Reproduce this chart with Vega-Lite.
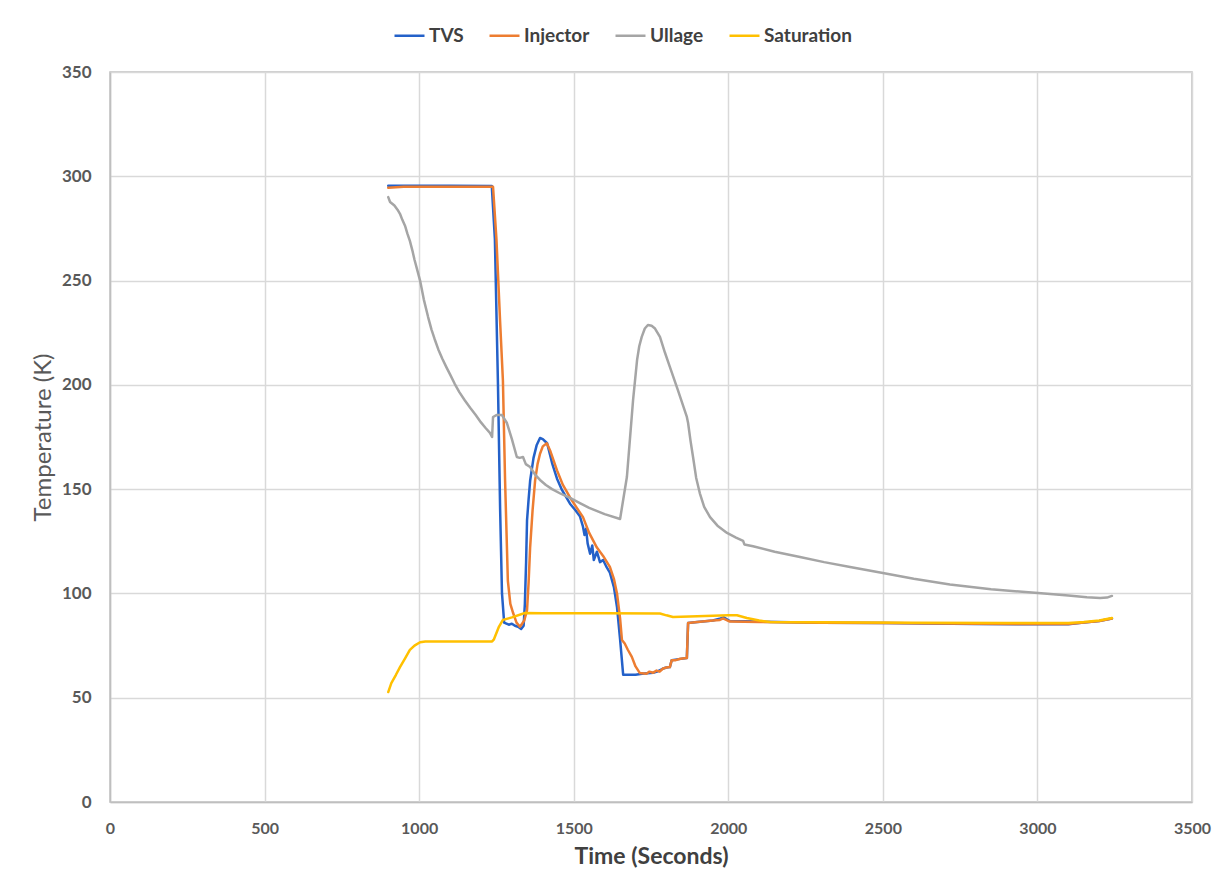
{
  "$schema": "https://vega.github.io/schema/vega-lite/v6.json",
  "width": 1082,
  "height": 730,
  "autosize": {"type": "none"},
  "padding": {"left": 110, "top": 72, "right": 34, "bottom": 90},
  "background": "white",
  "config": {
    "view": {"stroke": "#bfbfbf", "strokeWidth": 1.5},
    "font": "Lato"
  },
  "data": {
    "values": [
      {"s":"TVS","t":900,"T":295.5},{"s":"TVS","t":1000,"T":295.5},{"s":"TVS","t":1100,"T":295.5},{"s":"TVS","t":1235,"T":295.3},{"s":"TVS","t":1245,"T":270},{"s":"TVS","t":1255,"T":200},{"s":"TVS","t":1262,"T":140},{"s":"TVS","t":1268,"T":100},{"s":"TVS","t":1275,"T":86},{"s":"TVS","t":1290,"T":85},{"s":"TVS","t":1300,"T":85.5},{"s":"TVS","t":1310,"T":84.5},{"s":"TVS","t":1320,"T":84},{"s":"TVS","t":1330,"T":83},{"s":"TVS","t":1338,"T":84.5},{"s":"TVS","t":1342,"T":95},{"s":"TVS","t":1346,"T":115},{"s":"TVS","t":1349,"T":135},{"s":"TVS","t":1354,"T":145},{"s":"TVS","t":1359,"T":154},{"s":"TVS","t":1370,"T":165},{"s":"TVS","t":1380,"T":171},{"s":"TVS","t":1391,"T":174.5},{"s":"TVS","t":1400,"T":174},{"s":"TVS","t":1414,"T":172},{"s":"TVS","t":1430,"T":162.5},{"s":"TVS","t":1446,"T":155},{"s":"TVS","t":1462,"T":149.6},{"s":"TVS","t":1488,"T":143},{"s":"TVS","t":1505,"T":140},{"s":"TVS","t":1520,"T":137},{"s":"TVS","t":1530,"T":132},{"s":"TVS","t":1535,"T":128},{"s":"TVS","t":1540,"T":131},{"s":"TVS","t":1545,"T":124},{"s":"TVS","t":1553,"T":119},{"s":"TVS","t":1560,"T":123},{"s":"TVS","t":1565,"T":116},{"s":"TVS","t":1575,"T":120},{"s":"TVS","t":1585,"T":115},{"s":"TVS","t":1595,"T":116},{"s":"TVS","t":1605,"T":113},{"s":"TVS","t":1617,"T":110},{"s":"TVS","t":1630,"T":103},{"s":"TVS","t":1640,"T":93.5},{"s":"TVS","t":1650,"T":78},{"s":"TVS","t":1660,"T":61},{"s":"TVS","t":1700,"T":61},{"s":"TVS","t":1721,"T":61.5},{"s":"TVS","t":1757,"T":62},{"s":"TVS","t":1770,"T":62.5},{"s":"TVS","t":1789,"T":64},{"s":"TVS","t":1800,"T":64.5},{"s":"TVS","t":1811,"T":64.7},{"s":"TVS","t":1817,"T":68},{"s":"TVS","t":1840,"T":68.5},{"s":"TVS","t":1866,"T":69},{"s":"TVS","t":1870,"T":85.8},{"s":"TVS","t":1900,"T":86.3},{"s":"TVS","t":1950,"T":87},{"s":"TVS","t":1975,"T":88},{"s":"TVS","t":1985,"T":88.5},{"s":"TVS","t":2005,"T":86.8},{"s":"TVS","t":2100,"T":86.5},{"s":"TVS","t":2300,"T":86},{"s":"TVS","t":2500,"T":85.8},{"s":"TVS","t":2800,"T":85.4},{"s":"TVS","t":3000,"T":85.2},{"s":"TVS","t":3100,"T":85.2},{"s":"TVS","t":3150,"T":86},{"s":"TVS","t":3200,"T":86.8},{"s":"TVS","t":3241,"T":88},
      {"s":"Injector","t":900,"T":294.5},{"s":"Injector","t":950,"T":295},{"s":"Injector","t":1100,"T":295},{"s":"Injector","t":1239,"T":295},{"s":"Injector","t":1250,"T":270},{"s":"Injector","t":1262,"T":230},{"s":"Injector","t":1271,"T":202},{"s":"Injector","t":1278,"T":154},{"s":"Injector","t":1287,"T":106},{"s":"Injector","t":1295,"T":95},{"s":"Injector","t":1304,"T":90.6},{"s":"Injector","t":1315,"T":86},{"s":"Injector","t":1326,"T":84},{"s":"Injector","t":1333,"T":85.5},{"s":"Injector","t":1340,"T":87},{"s":"Injector","t":1349,"T":92},{"s":"Injector","t":1354,"T":105},{"s":"Injector","t":1359,"T":122},{"s":"Injector","t":1367,"T":140},{"s":"Injector","t":1375,"T":154},{"s":"Injector","t":1383,"T":162},{"s":"Injector","t":1391,"T":167},{"s":"Injector","t":1400,"T":170.5},{"s":"Injector","t":1413,"T":172},{"s":"Injector","t":1425,"T":168},{"s":"Injector","t":1446,"T":159},{"s":"Injector","t":1465,"T":152},{"s":"Injector","t":1488,"T":146},{"s":"Injector","t":1510,"T":141},{"s":"Injector","t":1530,"T":136.6},{"s":"Injector","t":1550,"T":129},{"s":"Injector","t":1575,"T":122},{"s":"Injector","t":1595,"T":118},{"s":"Injector","t":1617,"T":112.7},{"s":"Injector","t":1630,"T":107},{"s":"Injector","t":1640,"T":100},{"s":"Injector","t":1650,"T":88},{"s":"Injector","t":1656,"T":77.7},{"s":"Injector","t":1665,"T":76},{"s":"Injector","t":1675,"T":73},{"s":"Injector","t":1688,"T":69.6},{"s":"Injector","t":1700,"T":65},{"s":"Injector","t":1714,"T":61.8},{"s":"Injector","t":1735,"T":61.5},{"s":"Injector","t":1745,"T":62.5},{"s":"Injector","t":1757,"T":62},{"s":"Injector","t":1768,"T":63},{"s":"Injector","t":1778,"T":62.5},{"s":"Injector","t":1789,"T":64},{"s":"Injector","t":1800,"T":64.5},{"s":"Injector","t":1811,"T":64.7},{"s":"Injector","t":1817,"T":68},{"s":"Injector","t":1830,"T":68},{"s":"Injector","t":1845,"T":68.7},{"s":"Injector","t":1866,"T":69},{"s":"Injector","t":1870,"T":85.8},{"s":"Injector","t":1900,"T":86.3},{"s":"Injector","t":1950,"T":87},{"s":"Injector","t":1973,"T":87.3},{"s":"Injector","t":1983,"T":88},{"s":"Injector","t":2005,"T":86.5},{"s":"Injector","t":2100,"T":86.3},{"s":"Injector","t":2300,"T":86},{"s":"Injector","t":2500,"T":85.8},{"s":"Injector","t":2800,"T":85.5},{"s":"Injector","t":3000,"T":85.3},{"s":"Injector","t":3100,"T":85.3},{"s":"Injector","t":3150,"T":86},{"s":"Injector","t":3200,"T":86.8},{"s":"Injector","t":3241,"T":88},
      {"s":"Ullage","t":900,"T":290},{"s":"Ullage","t":906,"T":287.7},{"s":"Ullage","t":920,"T":286},{"s":"Ullage","t":930,"T":284},{"s":"Ullage","t":938,"T":282},{"s":"Ullage","t":946,"T":279},{"s":"Ullage","t":955,"T":276},{"s":"Ullage","t":962,"T":272.5},{"s":"Ullage","t":970,"T":269},{"s":"Ullage","t":978,"T":264.5},{"s":"Ullage","t":985,"T":260},{"s":"Ullage","t":994,"T":255},{"s":"Ullage","t":1003,"T":250},{"s":"Ullage","t":1015,"T":241},{"s":"Ullage","t":1029,"T":232.5},{"s":"Ullage","t":1040,"T":226.5},{"s":"Ullage","t":1050,"T":222},{"s":"Ullage","t":1062,"T":217},{"s":"Ullage","t":1075,"T":212.5},{"s":"Ullage","t":1088,"T":208.5},{"s":"Ullage","t":1100,"T":205},{"s":"Ullage","t":1115,"T":200.5},{"s":"Ullage","t":1130,"T":196.5},{"s":"Ullage","t":1148,"T":192.5},{"s":"Ullage","t":1165,"T":189},{"s":"Ullage","t":1183,"T":185.5},{"s":"Ullage","t":1200,"T":182},{"s":"Ullage","t":1215,"T":179.3},{"s":"Ullage","t":1229,"T":177},{"s":"Ullage","t":1236,"T":175},{"s":"Ullage","t":1239,"T":184.6},{"s":"Ullage","t":1250,"T":185.5},{"s":"Ullage","t":1268,"T":185.5},{"s":"Ullage","t":1284,"T":181.7},{"s":"Ullage","t":1300,"T":174},{"s":"Ullage","t":1316,"T":165.4},{"s":"Ullage","t":1325,"T":165},{"s":"Ullage","t":1336,"T":165.4},{"s":"Ullage","t":1345,"T":162},{"s":"Ullage","t":1359,"T":160.6},{"s":"Ullage","t":1375,"T":157},{"s":"Ullage","t":1391,"T":154.4},{"s":"Ullage","t":1410,"T":152},{"s":"Ullage","t":1430,"T":150},{"s":"Ullage","t":1458,"T":147.8},{"s":"Ullage","t":1488,"T":145.8},{"s":"Ullage","t":1520,"T":143.3},{"s":"Ullage","t":1550,"T":141},{"s":"Ullage","t":1600,"T":138},{"s":"Ullage","t":1650,"T":135.7},{"s":"Ullage","t":1672,"T":155.8},{"s":"Ullage","t":1692,"T":192.7},{"s":"Ullage","t":1705,"T":212},{"s":"Ullage","t":1712,"T":218.5},{"s":"Ullage","t":1720,"T":223},{"s":"Ullage","t":1730,"T":227},{"s":"Ullage","t":1740,"T":228.7},{"s":"Ullage","t":1752,"T":228.3},{"s":"Ullage","t":1763,"T":227},{"s":"Ullage","t":1779,"T":223},{"s":"Ullage","t":1795,"T":215.5},{"s":"Ullage","t":1811,"T":208.6},{"s":"Ullage","t":1837,"T":197.5},{"s":"Ullage","t":1866,"T":184.6},{"s":"Ullage","t":1870,"T":181.7},{"s":"Ullage","t":1878,"T":173},{"s":"Ullage","t":1886,"T":165.4},{"s":"Ullage","t":1896,"T":155.5},{"s":"Ullage","t":1908,"T":148},{"s":"Ullage","t":1922,"T":141.5},{"s":"Ullage","t":1941,"T":136.6},{"s":"Ullage","t":1965,"T":132.5},{"s":"Ullage","t":1996,"T":129},{"s":"Ullage","t":2025,"T":126.8},{"s":"Ullage","t":2048,"T":125.2},{"s":"Ullage","t":2052,"T":123.5},{"s":"Ullage","t":2080,"T":122.6},{"s":"Ullage","t":2150,"T":120},{"s":"Ullage","t":2232,"T":117.5},{"s":"Ullage","t":2310,"T":115},{"s":"Ullage","t":2394,"T":112.7},{"s":"Ullage","t":2500,"T":109.8},{"s":"Ullage","t":2600,"T":107},{"s":"Ullage","t":2717,"T":104.3},{"s":"Ullage","t":2850,"T":102},{"s":"Ullage","t":3002,"T":100.2},{"s":"Ullage","t":3100,"T":99},{"s":"Ullage","t":3160,"T":98.2},{"s":"Ullage","t":3203,"T":97.8},{"s":"Ullage","t":3225,"T":98},{"s":"Ullage","t":3241,"T":98.8},
      {"s":"Saturation","t":900,"T":52.7},{"s":"Saturation","t":910,"T":57},{"s":"Saturation","t":925,"T":61},{"s":"Saturation","t":938,"T":64.7},{"s":"Saturation","t":955,"T":69},{"s":"Saturation","t":970,"T":72.9},{"s":"Saturation","t":985,"T":75},{"s":"Saturation","t":1003,"T":76.6},{"s":"Saturation","t":1020,"T":77},{"s":"Saturation","t":1100,"T":77},{"s":"Saturation","t":1236,"T":77},{"s":"Saturation","t":1242,"T":78},{"s":"Saturation","t":1258,"T":84},{"s":"Saturation","t":1271,"T":87.3},{"s":"Saturation","t":1300,"T":88.5},{"s":"Saturation","t":1342,"T":90.6},{"s":"Saturation","t":1400,"T":90.5},{"s":"Saturation","t":1600,"T":90.5},{"s":"Saturation","t":1779,"T":90.4},{"s":"Saturation","t":1800,"T":89.5},{"s":"Saturation","t":1821,"T":88.7},{"s":"Saturation","t":1900,"T":89},{"s":"Saturation","t":2000,"T":89.5},{"s":"Saturation","t":2028,"T":89.5},{"s":"Saturation","t":2060,"T":88.2},{"s":"Saturation","t":2100,"T":87},{"s":"Saturation","t":2135,"T":86.3},{"s":"Saturation","t":2300,"T":86.2},{"s":"Saturation","t":2600,"T":86},{"s":"Saturation","t":2900,"T":85.8},{"s":"Saturation","t":3100,"T":85.8},{"s":"Saturation","t":3150,"T":86.3},{"s":"Saturation","t":3200,"T":87},{"s":"Saturation","t":3241,"T":88.2}
    ]
  },
  "mark": {"type": "line", "strokeWidth": 2.5, "strokeJoin": "round", "strokeCap": "round"},
  "encoding": {
    "x": {
      "field": "t", "type": "quantitative",
      "scale": {"domain": [0, 3500], "nice": false, "zero": true},
      "axis": {
        "title": "Time (Seconds)", "values": [0,500,1000,1500,2000,2500,3000,3500], "format": "d",
        "grid": true, "gridColor": "#d9d9d9", "gridWidth": 1.5,
        "domain": true, "domainColor": "#bfbfbf", "domainWidth": 1.5, "ticks": false,
        "labelPadding": 18, "labelFont": "Lato", "labelFontSize": 16, "labelFontWeight": "bold", "labelColor": "#595959",
        "titleFont": "Lato", "titleFontSize": 23, "titleFontWeight": "bold", "titleColor": "#404040", "titlePadding": 9,
        "labelFlush": false
      }
    },
    "y": {
      "field": "T", "type": "quantitative",
      "scale": {"domain": [0, 350], "nice": false},
      "axis": {
        "title": "Temperature (K)", "values": [0,50,100,150,200,250,300,350],
        "grid": true, "gridColor": "#d9d9d9", "gridWidth": 1.5,
        "domain": true, "domainColor": "#bfbfbf", "domainWidth": 1.5, "ticks": false,
        "labelPadding": 19, "labelFont": "Lato", "labelFontSize": 17, "labelFontWeight": "bold", "labelColor": "#595959",
        "titleFont": "Lato", "titleFontSize": 24, "titleFontWeight": "normal", "titleColor": "#595959", "titlePadding": 6
      }
    },
    "color": {
      "field": "s", "type": "nominal",
      "scale": {"domain": ["TVS","Injector","Ullage","Saturation"], "range": ["#2461c9","#ed7d31","#a5a5a5","#ffc000"]},
      "legend": {
        "title": null, "orient": "none", "direction": "horizontal",
        "legendX": 283, "legendY": -53,
        "symbolType": "stroke", "symbolSize": 900, "symbolStrokeWidth": 2.5,
        "labelFont": "Lato", "labelFontSize": 19, "labelFontWeight": "bold", "labelColor": "#404040",
        "columnPadding": 20, "labelOffset": 3
      }
    }
  }
}
